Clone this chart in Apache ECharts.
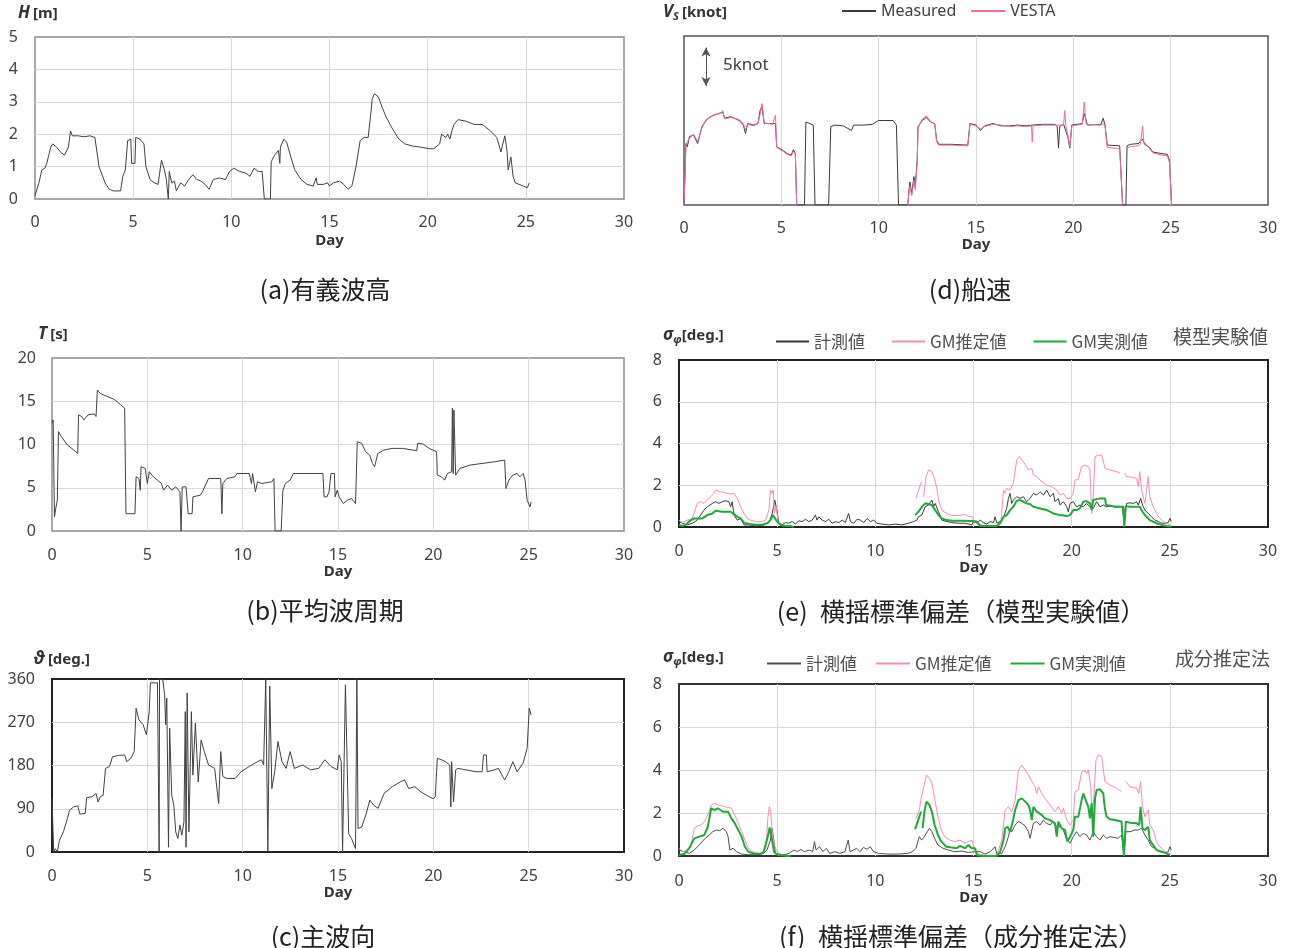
<!DOCTYPE html>
<html>
<head>
<meta charset="utf-8">
<script src="https://cdn.jsdelivr.net/npm/echarts@6/dist/echarts.min.js"></script>
<style>
html,body{margin:0;padding:0;background:#fff;}
#chart{width:1290px;height:948px;}
</style>
</head>
<body>
<div id="chart"></div>
<script>
// ---------- DATA (day, value) ----------
// (a) significant wave height H [m]
const waveHeight = [[0,0.1],[0.1,0.05],[0.2,0.5],[0.35,0.9],[0.5,0.95],[0.6,1.1],[0.8,1.6],[0.9,1.7],[1.1,1.6],[1.3,1.45],[1.5,1.35],[1.7,1.6],[1.81,2.1],[1.9,1.95],[2.2,1.95],[2.5,1.92],[2.8,1.95],[3.05,1.9],[3.26,1.0],[3.57,0.5],[3.78,0.3],[4.0,0.25],[4.36,0.25],[4.47,0.7],[4.6,0.9],[4.72,1.8],[4.88,1.85],[4.92,1.1],[5.09,1.1],[5.13,1.9],[5.34,1.85],[5.55,1.7],[5.65,1.0],[5.86,0.6],[6.07,0.5],[6.27,0.45],[6.44,1.2],[6.59,0.9],[6.69,0.6],[6.79,0],[6.84,0.85],[6.96,0.5],[7.1,0.55],[7.2,0.25],[7.42,0.5],[7.62,0.4],[7.83,0.6],[8.04,0.75],[8.25,0.6],[8.46,0.55],[8.66,0.45],[8.87,0.3],[9.08,0.6],[9.39,0.65],[9.7,0.6],[9.91,0.85],[10.12,0.95],[10.43,0.85],[10.74,0.8],[10.95,0.7],[11.16,0.95],[11.37,0.85],[11.57,0.85],[11.68,0],[11.99,0],[12.03,1.15],[12.2,1.35],[12.4,1.5],[12.47,1.1],[12.5,1.6],[12.67,1.85],[12.82,1.75],[13.03,1.3],[13.23,0.9],[13.55,0.6],[13.86,0.45],[14.17,0.4],[14.32,0.65],[14.38,0.45],[14.69,0.45],[14.9,0.5],[15.0,0.4],[15.21,0.5],[15.52,0.55],[15.73,0.45],[15.94,0.3],[16.14,0.4],[16.35,1.0],[16.56,1.8],[16.77,1.9],[16.97,1.9],[17.08,2.5],[17.18,3.1],[17.29,3.25],[17.49,3.15],[17.7,2.8],[17.91,2.5],[18.22,2.15],[18.53,1.85],[18.84,1.7],[19.26,1.63],[19.67,1.6],[20.09,1.55],[20.3,1.55],[20.61,1.7],[20.71,2.0],[20.92,1.9],[21.02,2.0],[21.13,1.85],[21.23,2.1],[21.34,2.3],[21.55,2.45],[21.96,2.4],[22.38,2.3],[22.79,2.3],[23.2,2.1],[23.52,1.9],[23.73,1.45],[23.83,1.4],[23.93,1.95],[24.04,1.5],[24.1,0.9],[24.24,1.3],[24.35,0.7],[24.46,0.5],[24.66,0.45],[24.87,0.4],[25.08,0.35],[25.18,0.5]];

// (b) mean wave period T [s]
const wavePeriod = [[0,12.46],[0.06,12.84],[0.13,1.62],[0.21,2.79],[0.28,3.56],[0.34,11.49],[0.49,10.9],[0.81,9.94],[1.14,9.36],[1.35,8.97],[1.39,13.42],[1.56,13.23],[1.67,12.84],[1.89,13.42],[2.21,13.54],[2.31,13.23],[2.38,16.3],[2.53,15.9],[2.85,15.6],[3.28,15.2],[3.6,14.6],[3.81,14.2],[3.88,2.0],[4.35,2.0],[4.41,6.27],[4.56,6.07],[4.63,4.72],[4.67,7.43],[4.89,7.23],[5.0,5.49],[5.1,6.85],[5.31,6.27],[5.53,5.88],[5.74,5.49],[5.85,4.72],[6.06,5.3],[6.28,4.72],[6.49,5.1],[6.71,4.53],[6.77,0],[6.83,5.1],[7.03,5.1],[7.14,2.0],[7.35,2.0],[7.39,3.95],[7.78,4.14],[7.89,4.53],[8.21,6.07],[8.85,6.07],[8.91,2.0],[8.96,5.49],[9.17,6.07],[9.6,6.27],[9.71,6.65],[10.35,6.65],[10.46,5.49],[10.52,6.65],[10.67,4.53],[10.78,5.69],[10.99,5.49],[11.21,5.57],[11.53,5.69],[11.64,6.07],[11.7,0],[12.02,0],[12.11,4.72],[12.24,5.49],[12.49,5.88],[12.66,6.65],[14.21,6.65],[14.27,3.95],[14.42,3.95],[14.53,4.53],[14.63,6.65],[14.81,6.65],[14.85,3.95],[14.96,4.72],[15.06,3.95],[15.28,3.17],[15.49,3.56],[15.71,3.75],[15.92,3.17],[16.01,10.33],[16.24,10.14],[16.45,9.17],[16.66,8.78],[16.81,7.81],[16.92,7.43],[17.09,8.97],[17.41,9.36],[17.84,9.55],[18.38,9.55],[18.92,9.36],[19.13,9.28],[19.18,10.14],[19.46,10.06],[19.78,9.55],[20.17,9.17],[20.21,6.46],[20.42,6.27],[20.59,5.88],[20.74,6.65],[20.96,6.85],[21.0,14.2],[21.04,6.65],[21.08,14.0],[21.17,6.46],[21.39,7.23],[21.92,7.62],[22.56,7.81],[23.2,8.0],[23.74,8.2],[23.81,4.91],[23.96,5.88],[24.17,6.46],[24.39,6.65],[24.54,6.27],[24.71,6.65],[24.81,5.88],[24.92,3.56],[25.07,2.79],[25.13,3.37]];

// (c) principal wave direction [deg.]
const waveDirection = [[0,111],[0.09,0],[0.17,7],[0.28,0],[0.39,24],[0.6,42],[0.81,70],[0.92,87],[1.14,94],[1.35,96],[1.46,79],[1.74,80],[1.82,113],[2.1,115],[2.31,122],[2.42,104],[2.53,115],[2.68,118],[2.81,174],[3.02,178],[3.17,198],[3.49,201],[3.81,202],[3.92,188],[4.14,195],[4.31,209],[4.41,299],[4.56,275],[4.78,265],[4.95,244],[5.1,292],[5.16,352],[5.53,352],[5.6,352],[5.62,0],[5.64,360],[5.81,359],[5.91,327],[5.96,265],[6.02,320],[6.11,10],[6.17,258],[6.28,118],[6.39,97],[6.49,42],[6.6,28],[6.71,56],[6.81,35],[6.92,63],[6.99,292],[7.03,10],[7.09,331],[7.18,42],[7.31,292],[7.39,160],[7.52,268],[7.67,146],[7.82,233],[7.99,209],[8.21,181],[8.53,174],[8.74,101],[8.85,209],[8.96,157],[9.17,153],[9.6,153],[9.92,167],[10.35,178],[10.78,188],[10.99,192],[11.1,181],[11.21,359],[11.32,1],[11.42,345],[11.53,132],[11.68,167],[11.85,230],[12.06,188],[12.28,174],[12.49,209],[12.71,174],[13.14,181],[13.56,171],[13.99,174],[14.31,192],[14.63,178],[14.96,171],[15.06,202],[15.17,188],[15.24,0],[15.39,348],[15.49,350],[15.56,38],[15.71,28],[15.92,7],[15.99,360],[16.05,49],[16.24,52],[16.46,77],[16.67,108],[16.88,97],[17.1,91],[17.42,122],[17.85,136],[18.28,146],[18.49,150],[18.71,132],[19.03,136],[19.35,125],[19.78,115],[19.99,111],[20.1,115],[20.21,195],[20.42,192],[20.64,188],[20.86,181],[20.92,94],[20.96,188],[21.06,104],[21.17,171],[21.28,174],[21.71,171],[22.24,167],[22.56,167],[22.63,202],[22.78,202],[22.82,167],[23.21,171],[23.42,174],[23.64,157],[23.74,150],[23.96,167],[24.17,188],[24.39,167],[24.71,185],[24.92,216],[25.03,299],[25.13,285]];

// (d) ship speed [knot]
const speedMeasured = [[0,0],[0.1,8.0],[0.17,7.6],[0.28,8.9],[0.49,9.1],[0.7,8.0],[0.92,10.2],[1.13,11.0],[1.35,11.5],[1.56,11.7],[1.88,12.0],[1.99,12.1],[2.09,11.3],[2.41,11.5],[2.84,11.0],[3.05,10.4],[3.16,9.3],[3.27,10.6],[3.59,10.4],[3.8,10.6],[3.91,12.3],[4.01,12.8],[4.12,10.6],[4.55,10.6],[4.7,10.6],[4.76,7.6],[5.08,7.1],[5.3,6.7],[5.51,6.5],[5.62,7.2],[5.72,6.7],[5.79,0],[6.19,0],[6.26,10.8],[6.47,10.6],[6.64,10.4],[6.73,0],[7.43,0],[7.54,10.2],[7.75,10.4],[8.18,10.3],[8.61,9.7],[8.71,10.4],[9.25,10.4],[9.67,10.5],[9.99,11.0],[10.31,11.0],[10.74,11.0],[10.91,10.4],[11.02,0],[11.49,0],[11.6,3.0],[11.7,1.5],[11.81,3.7],[11.88,2.4],[11.98,5.8],[12.02,10.2],[12.24,11.0],[12.45,11.4],[12.66,10.8],[12.88,10.6],[12.98,8.4],[13.09,7.9],[13.73,7.9],[14.58,7.8],[14.69,10.6],[15.01,10.4],[15.23,9.7],[15.44,10.3],[15.87,10.6],[16.29,10.3],[16.72,10.3],[17.15,10.4],[17.57,10.3],[17.89,10.4],[18.43,10.5],[19.07,10.5],[19.17,10.2],[19.24,7.4],[19.3,10.2],[19.5,10.5],[19.71,8.9],[19.82,7.4],[19.92,10.4],[20.46,10.6],[20.56,11.9],[20.73,10.4],[21.42,10.5],[21.53,11.3],[21.63,10.4],[21.74,7.8],[22.38,7.7],[22.48,7.6],[22.53,0],[22.7,0],[22.76,7.7],[22.92,7.9],[23.35,8.0],[23.45,8.2],[23.56,8.6],[23.66,7.9],[23.87,7.6],[24.08,6.9],[24.51,6.7],[24.83,6.6],[24.94,5.8],[25.05,0]];
const speedVesta = [[0,0],[0.1,7.8],[0.17,7.9],[0.28,8.7],[0.49,9.2],[0.7,8.3],[0.92,10.0],[1.13,11.1],[1.35,11.4],[1.56,11.8],[1.88,11.9],[1.99,12.3],[2.09,11.2],[2.41,11.4],[2.84,11.1],[3.05,10.6],[3.16,9.8],[3.27,10.5],[3.59,10.3],[3.8,10.7],[3.91,11.8],[4.01,13.2],[4.12,10.7],[4.55,10.5],[4.7,11.7],[4.76,7.5],[5.08,7.0],[5.3,6.6],[5.51,6.4],[5.62,7.0],[5.72,6.6],[5.79,0],[5.8,null],[11.49,0],[11.6,2.5],[11.7,1.2],[11.81,3.2],[11.88,2.0],[11.98,5.5],[12.02,10.0],[12.24,11.2],[12.45,11.6],[12.66,10.9],[12.88,10.5],[12.98,8.2],[13.09,7.8],[13.73,7.8],[14.58,7.7],[14.69,10.5],[15.01,10.3],[15.23,9.9],[15.44,10.2],[15.87,10.5],[16.29,10.4],[16.72,10.2],[17.15,10.3],[17.57,10.2],[17.85,10.3],[17.89,8.2],[17.93,10.3],[18.43,10.4],[19.07,10.4],[19.17,10.3],[19.5,10.4],[19.56,12.3],[19.62,10.2],[19.71,9.2],[19.82,7.6],[19.92,10.3],[20.46,10.5],[20.56,13.4],[20.66,10.5],[21.42,10.4],[21.53,10.6],[21.63,10.3],[21.74,7.5],[22.38,7.3],[22.48,7.3],[22.53,0],[22.6,null],[22.76,7.4],[22.92,7.6],[23.35,7.7],[23.45,8.0],[23.56,10.3],[23.62,8.2],[23.87,7.5],[24.08,6.8],[24.51,6.5],[24.83,6.4],[24.94,5.5],[25.05,0]];
const speedArrow = [[1.13,15.5],[1.13,20.5]]; // 5 knot scale marker

// (e) roll standard deviation, model-test based
const rollE_measured = [[0,0.26],[0.17,0.18],[0.42,0.1],[0.68,0.18],[0.93,0.33],[1.1,0.57],[1.27,0.81],[1.44,0.97],[1.7,1.13],[1.86,1.21],[2.03,1.13],[2.2,1.21],[2.37,1.26],[2.54,1.21],[2.63,0.97],[2.71,1.21],[2.8,0.57],[2.97,0.33],[3.14,0.41],[3.31,0.1],[3.56,0.1],[3.9,0.05],[4.32,0.1],[4.58,0.21],[4.75,0.65],[4.88,1.29],[5.0,0.73],[5.08,0.18],[5.25,0.1],[5.42,0.21],[5.59,0.18],[5.76,0.26],[5.93,0.14],[6.1,0.3],[6.27,0.26],[6.44,0.37],[6.61,0.26],[6.78,0.33],[6.95,0.57],[7.03,0.33],[7.12,0.49],[7.29,0.33],[7.46,0.26],[7.63,0.37],[7.8,0.18],[7.97,0.26],[8.14,0.21],[8.31,0.33],[8.47,0.21],[8.64,0.65],[8.73,0.26],[8.9,0.18],[9.07,0.37],[9.24,0.33],[9.41,0.21],[9.58,0.41],[9.75,0.26],[9.92,0.33],[10.08,0.18],[10.34,0.14],[10.68,0.1],[11.02,0.14],[11.36,0.1],[11.69,0.18],[11.95,0.26],[12.12,0.33],[12.2,0.49],[12.37,0.57],[12.54,0.97],[12.71,1.05],[12.88,1.29],[12.97,0.97],[13.05,1.13],[13.22,0.73],[13.39,0.33],[13.64,0.26],[13.9,0.21],[14.24,0.18],[14.58,0.18],[14.92,0.1],[15.0,0.26],[15.17,0.18],[15.34,0.33],[15.5,0.21],[15.68,0.14],[15.85,0.26],[16.02,0.21],[16.1,0.49],[16.19,0.18],[16.36,0.26],[16.53,0.49],[16.6,0.65],[16.69,0.89],[16.78,1.37],[16.86,1.61],[16.95,1.13],[17.03,1.29],[17.2,1.45],[17.37,1.37],[17.54,1.45],[17.71,1.21],[17.88,1.37],[18.05,1.61],[18.22,1.53],[18.39,1.69],[18.56,1.53],[18.73,1.77],[18.9,1.45],[19.07,1.61],[19.15,1.21],[19.32,1.37],[19.41,1.05],[19.58,1.21],[19.75,0.97],[19.83,0.73],[19.92,1.13],[20.08,1.21],[20.25,0.97],[20.42,1.05],[20.59,0.97],[20.76,1.13],[20.93,0.97],[21.1,0.89],[21.27,1.21],[21.44,0.97],[21.61,1.05],[21.78,0.97],[21.95,1.0],[22.12,0.97],[22.29,0.94],[22.46,0.97],[22.59,0.94],[22.66,0.26],[22.73,0.26],[22.8,1.13],[22.97,1.16],[23.14,1.13],[23.31,1.21],[23.39,1.05],[23.51,1.37],[23.61,1.05],[23.73,0.81],[23.9,0.65],[24.07,0.49],[24.24,0.33],[24.41,0.26],[24.58,0.18],[24.75,0.18],[24.92,0.21],[25.0,0.41],[25.08,0.26]];
const rollE_gmEstimated = [[0,0.33],[0.17,0.21],[0.42,0.33],[0.68,0.41],[0.93,1.13],[1.1,1.21],[1.27,1.13],[1.44,1.29],[1.61,1.45],[1.78,1.61],[1.86,1.77],[2.12,1.69],[2.37,1.64],[2.63,1.58],[2.8,1.61],[2.97,1.37],[3.14,0.97],[3.31,0.65],[3.47,0.41],[3.64,0.33],[3.9,0.26],[4.24,0.26],[4.41,0.33],[4.58,0.81],[4.66,1.77],[4.75,1.61],[4.8,1.77],[4.86,0.65],[4.95,0.97],[5.05,0.26],[5.17,0.1],[5.25,0.05],[5.3,null],[12.07,1.37],[12.29,2.01],[12.37,2.17],[12.42,null],[12.46,1.45],[12.58,2.41],[12.71,2.73],[12.88,2.65],[13.02,2.3],[13.14,1.8],[13.22,1.3],[13.39,0.8],[13.64,0.65],[13.9,0.55],[14.24,0.55],[14.58,0.6],[14.75,0.5],[14.92,0.5],[15.0,0.33],[15.2,0.15],[15.6,0.05],[16.2,0.05],[16.4,0.3],[16.53,1.77],[16.6,1.61],[16.7,1.85],[16.86,1.77],[17.03,2.09],[17.2,3.21],[17.34,3.37],[17.54,3.13],[17.8,2.73],[17.97,2.81],[18.05,2.49],[18.22,2.41],[18.47,2.17],[18.73,2.01],[18.98,1.93],[19.24,1.77],[19.41,1.53],[19.58,1.61],[19.75,1.37],[19.92,1.37],[20.08,1.61],[20.17,2.25],[20.34,2.28],[20.5,2.89],[20.68,2.97],[20.85,2.89],[20.93,2.73],[21.02,0.65],[21.1,1.45],[21.19,3.37],[21.36,3.44],[21.53,3.44],[21.7,2.81],[21.95,2.73],[22.29,2.65],[22.46,2.57],[22.6,null],[22.71,2.57],[22.8,2.41],[23.05,2.38],[23.31,2.33],[23.39,1.93],[23.47,2.65],[23.56,1.77],[23.73,1.13],[23.9,2.41],[23.98,1.45],[24.15,0.97],[24.32,0.65],[24.49,0.41],[24.66,0.26],[24.83,0.18],[25.0,0.1]];
const rollE_gmMeasured = [[0,0.1],[0.17,0.05],[0.34,0.1],[0.51,0.26],[0.76,0.41],[1.19,0.41],[1.44,0.57],[1.7,0.65],[1.86,0.78],[2.2,0.73],[2.63,0.73],[2.8,0.62],[2.97,0.49],[3.14,0.41],[3.31,0.21],[3.56,0.14],[3.9,0.11],[4.24,0.11],[4.49,0.18],[4.66,0.33],[4.78,0.57],[4.88,0.49],[5.0,0.26],[5.17,0.1],[5.42,0.05],[5.68,0.05],[5.85,0],[5.9,null],[12.03,0.57],[12.2,0.73],[12.37,0.97],[12.54,1.13],[12.71,1.1],[12.88,1.05],[13.05,0.81],[13.22,0.57],[13.39,0.41],[13.64,0.33],[13.9,0.3],[14.41,0.3],[14.92,0.29],[15.17,0.26],[15.34,0.05],[15.85,0.05],[16.19,0.05],[16.36,0.18],[16.53,0.49],[16.69,0.57],[16.86,0.81],[17.03,0.97],[17.2,1.26],[17.37,1.29],[17.54,1.21],[17.71,1.13],[17.88,1.1],[18.05,0.97],[18.39,0.89],[18.73,0.81],[19.07,0.65],[19.41,0.57],[19.75,0.53],[19.92,0.57],[20.08,0.81],[20.25,0.81],[20.42,0.89],[20.59,1.21],[20.76,1.24],[20.93,1.13],[21.02,0.81],[21.1,1.29],[21.19,1.37],[21.44,1.37],[21.7,1.37],[21.75,1.05],[22.12,1.0],[22.46,0.97],[22.63,0.97],[22.68,0],[22.76,1.0],[22.97,0.97],[23.31,0.97],[23.47,0.97],[23.61,0.73],[23.81,0.49],[23.98,0.33],[24.32,0.18],[24.58,0.1],[24.83,0.05],[25.08,0.02]];

// (f) roll standard deviation, component estimation method
const rollF_measured = [[0,0.28],[0.26,0.2],[0.52,0.12],[0.78,0.28],[1.03,0.51],[1.29,0.78],[1.55,0.98],[1.72,1.13],[1.9,1.21],[2.07,1.18],[2.24,1.29],[2.41,1.13],[2.5,0.9],[2.59,0.28],[2.76,0.36],[2.93,0.2],[3.19,0.09],[3.53,0.06],[3.97,0.06],[4.31,0.12],[4.48,0.28],[4.66,0.74],[4.74,1.29],[4.83,0.74],[4.91,0.12],[5.09,0.09],[5.34,0.05],[5.6,0.12],[5.86,0.28],[6.03,0.2],[6.21,0.31],[6.38,0.2],[6.64,0.28],[6.81,0.2],[6.9,0.67],[6.98,0.28],[7.16,0.43],[7.33,0.2],[7.5,0.36],[7.67,0.12],[7.93,0.2],[8.19,0.12],[8.45,0.2],[8.62,0.74],[8.71,0.2],[8.88,0.28],[9.05,0.36],[9.22,0.2],[9.4,0.4],[9.57,0.31],[9.74,0.43],[9.91,0.2],[10.17,0.12],[10.6,0.09],[11.12,0.09],[11.64,0.12],[11.9,0.2],[12.07,0.36],[12.24,0.9],[12.36,0.74],[12.5,0.9],[12.64,1.13],[12.76,1.29],[12.88,1.13],[13.02,0.82],[13.19,0.51],[13.45,0.36],[13.71,0.28],[14.05,0.2],[14.4,0.23],[14.74,0.16],[15.0,0.2],[15.08,0.12],[15.34,0.2],[15.59,0.09],[15.85,0.2],[16.1,0.43],[16.19,0.09],[16.44,0.12],[16.61,0.43],[16.78,0.9],[16.86,1.24],[16.95,1.13],[17.12,1.44],[17.29,1.6],[17.46,1.52],[17.63,1.4],[17.8,1.13],[17.88,0.82],[18.05,1.52],[18.22,1.6],[18.39,1.44],[18.56,1.67],[18.73,1.52],[18.9,1.44],[19.07,1.6],[19.24,1.36],[19.41,1.36],[19.58,1.21],[19.75,0.74],[19.92,0.59],[20.08,0.9],[20.25,1.13],[20.42,0.9],[20.59,1.05],[20.76,0.98],[20.93,0.74],[21.1,1.13],[21.27,0.9],[21.44,0.74],[21.61,0.98],[21.78,0.82],[21.95,0.9],[22.12,0.87],[22.37,0.82],[22.54,0.98],[22.66,0.05],[22.76,1.13],[22.97,1.13],[23.22,1.21],[23.39,1.21],[23.56,1.29],[23.73,0.98],[23.9,0.74],[24.07,0.43],[24.24,0.36],[24.49,0.2],[24.75,0.16],[24.92,0.2],[25.0,0.43],[25.08,0.28]];
const rollF_gmEstimated = [[0,0.36],[0.17,0.2],[0.43,0.25],[0.6,0.43],[0.78,1.29],[0.95,1.4],[1.12,1.44],[1.29,1.6],[1.47,1.91],[1.64,2.37],[1.81,2.45],[1.98,2.37],[2.16,2.33],[2.33,2.29],[2.5,2.26],[2.67,2.22],[2.84,1.91],[3.02,1.52],[3.19,1.13],[3.36,0.74],[3.53,0.36],[3.71,0.2],[4.05,0.12],[4.31,0.16],[4.43,0.43],[4.53,1.83],[4.6,2.29],[4.67,2.06],[4.74,1.21],[4.83,0.59],[4.95,0.28],[5.09,0.12],[5.26,0.05],[5.3,null],[12.07,1.75],[12.24,2.14],[12.33,2.68],[12.47,3.22],[12.6,3.77],[12.76,3.61],[12.88,3.38],[13.02,2.68],[13.19,1.83],[13.36,1.21],[13.53,0.9],[13.79,0.74],[14.05,0.67],[14.31,0.74],[14.4,0.82],[14.57,0.59],[14.74,0.67],[14.91,0.74],[15.0,0.51],[15.08,0.28],[15.3,0.05],[16.0,0.03],[16.19,0.05],[16.44,0.74],[16.61,2.14],[16.78,2.29],[16.95,2.06],[17.12,2.6],[17.29,4.0],[17.46,4.23],[17.63,4.0],[17.8,3.77],[17.97,3.46],[18.14,3.22],[18.22,2.91],[18.31,3.22],[18.47,2.91],[18.64,2.68],[18.9,2.37],[19.15,2.06],[19.32,2.29],[19.49,1.98],[19.58,2.22],[19.75,1.67],[19.92,1.44],[20.08,1.67],[20.17,2.99],[20.34,3.07],[20.51,3.92],[20.68,3.97],[20.76,3.84],[20.85,4.0],[20.97,3.22],[21.05,1.83],[21.14,2.91],[21.24,4.47],[21.36,4.7],[21.53,4.62],[21.69,3.46],[21.95,3.3],[22.29,3.15],[22.54,2.99],[22.6,null],[22.76,3.46],[22.97,3.22],[23.31,3.15],[23.42,2.91],[23.51,3.46],[23.61,2.29],[23.73,1.83],[23.9,2.14],[23.98,1.44],[24.15,1.21],[24.32,0.67],[24.49,0.43],[24.66,0.28],[24.83,0.16],[25.0,0.12]];
const rollF_gmMeasured = [[0,0.05],[0.26,0.09],[0.52,0.36],[0.78,0.82],[1.03,0.9],[1.29,0.98],[1.47,1.36],[1.64,2.22],[1.81,2.14],[1.98,2.22],[2.24,2.06],[2.5,2.06],[2.67,1.75],[2.84,1.52],[3.02,1.21],[3.19,0.9],[3.36,0.43],[3.53,0.2],[3.79,0.12],[4.14,0.09],[4.31,0.2],[4.48,0.74],[4.62,1.33],[4.74,0.74],[4.84,0.2],[5.0,0.05],[5.26,0.03],[5.52,0],[5.69,0],[5.75,null],[12.02,1.24],[12.16,1.6],[12.24,1.83],[12.33,2.06],[12.37,null],[12.41,1.3],[12.5,2.06],[12.6,2.53],[12.76,2.37],[12.88,2.06],[13.02,1.44],[13.19,0.98],[13.36,0.67],[13.62,0.43],[13.88,0.4],[14.14,0.36],[14.31,0.47],[14.4,0.43],[14.57,0.36],[14.74,0.51],[14.91,0.36],[15.0,0.43],[15.08,0.36],[15.17,0.05],[15.5,0],[16.19,0],[16.36,0.2],[16.53,0.74],[16.61,1.29],[16.73,1.36],[16.86,1.13],[17.0,1.6],[17.12,2.14],[17.29,2.6],[17.46,2.68],[17.63,2.53],[17.8,2.37],[17.88,2.14],[17.97,1.67],[18.05,2.29],[18.22,2.06],[18.47,1.91],[18.64,1.75],[18.9,1.67],[19.15,1.52],[19.24,0.9],[19.32,1.6],[19.49,1.29],[19.66,1.21],[19.78,0.67],[19.92,0.9],[20.08,1.21],[20.17,1.83],[20.34,1.83],[20.51,2.6],[20.59,2.91],[20.68,2.68],[20.85,2.29],[20.93,1.75],[21.02,2.45],[21.1,0.9],[21.19,2.68],[21.27,3.07],[21.44,3.1],[21.61,2.91],[21.69,2.22],[21.78,1.83],[21.95,1.71],[22.2,1.67],[22.54,1.6],[22.66,0],[22.76,1.6],[22.97,1.55],[23.31,1.52],[23.44,1.44],[23.51,2.29],[23.61,1.29],[23.73,1.21],[23.9,1.36],[23.98,0.74],[24.15,0.51],[24.32,0.28],[24.58,0.2],[24.83,0.12],[25.0,0.05]];

// axis settings
const dayRange = [0, 30, 5];
const hAxis = [0, 5, 1];
const tAxis = [0, 20, 5];
const dirAxis = [0, 360, 90];
const speedAxis = [0, 22];
const rollAxis = [0, 8, 2];

// ---------- LAYOUT ----------
const FONT = "'Noto Sans', 'Noto Sans CJK JP', sans-serif";
const CJK = "'Noto Sans CJK JP', sans-serif";
const GRID_LINE = '#d9d9d9';
const BLACK = '#3a3a3a', PINK = '#f48cb6', GREEN = '#21a83c';

const panels = [
  {left:35,  top:37,  width:589, height:162, y:hAxis,  frame:'#8c8c8c', fw:1.5, lblM:[15,17], nameGap:34},
  {left:52,  top:358, width:572, height:173, y:tAxis,  frame:'#8c8c8c', fw:1.5, lblM:[16,16], nameGap:27},
  {left:52,  top:679, width:572, height:173, y:dirAxis,frame:'#222',    fw:2,   lblM:[16,17], nameGap:27},
  {left:684, top:36,  width:584, height:169, y:null,   frame:'#555',    fw:1.5, lblM:[15,0],  nameGap:30},
  {left:679, top:360, width:589, height:167, y:rollAxis,frame:'#222',   fw:2,   lblM:[16,17], nameGap:30},
  {left:679, top:684, width:589, height:172, y:rollAxis,frame:'#333',   fw:2,   lblM:[17,17], nameGap:29}
];

const grid = panels.map(p => ({left:p.left, top:p.top, width:p.width, height:p.height, show:true,
  borderColor:p.frame, borderWidth:p.fw, backgroundColor:'transparent', containLabel:false}));

const xAxis = panels.map((p,i) => ({
  type:'value', gridIndex:i, min:dayRange[0], max:dayRange[1], interval:dayRange[2],
  axisLine:{show:false}, axisTick:{show:false},
  splitLine:{show:true, showMinLine:false, showMaxLine:false, lineStyle:{color:GRID_LINE, width:1}},
  axisLabel:{margin:p.lblM[0], fontSize:16, color:'#404040', fontFamily:FONT},
  name:'Day', nameLocation:'middle', nameGap:p.nameGap,
  nameTextStyle:{fontSize:15, fontWeight:'bold', color:'#333', fontFamily:FONT}
}));

const yAxis = panels.map((p,i) => {
  if (!p.y) {
    return {type:'value', gridIndex:i, min:speedAxis[0], max:speedAxis[1],
      axisLine:{show:false}, axisTick:{show:false}, axisLabel:{show:false}, splitLine:{show:false}};
  }
  return {type:'value', gridIndex:i, min:p.y[0], max:p.y[1], interval:p.y[2],
    axisLine:{show:false}, axisTick:{show:false},
    splitLine:{show:true, showMinLine:false, showMaxLine:false, lineStyle:{color:GRID_LINE, width:1}},
    axisLabel:{margin:p.lblM[1], fontSize:16, color:'#404040', fontFamily:FONT}};
});

function line(name, idx, data, color, width, z) {
  return {type:'line', name, xAxisIndex:idx, yAxisIndex:idx, data, symbol:'none', showSymbol:false,
    connectNulls:false, animation:false, z:z||2,
    lineStyle:{color, width}, itemStyle:{color}, emphasis:{disabled:true}};
}

const series = [
  line('H', 0, waveHeight, '#404040', 1),
  line('T', 1, wavePeriod, '#404040', 1),
  line('dir', 2, waveDirection, '#404040', 1),
  line('Measured', 3, speedMeasured, '#3a3a3a', 1, 2),
  line('VESTA', 3, speedVesta, '#f06aa5', 1, 3),
  Object.assign(line('arrow', 3, [], '#555', 1, 4), {
    markLine:{silent:true, animation:false, symbol:['arrow','arrow'], symbolSize:[7,9],
      label:{show:false}, lineStyle:{color:'#555', width:1, type:'solid'},
      data:[[{coord:speedArrow[0]},{coord:speedArrow[1]}]]}
  }),
  line('e:計測値', 4, rollE_measured, BLACK, 1, 2),
  line('e:GM推定値', 4, rollE_gmEstimated, PINK, 1, 3),
  line('e:GM実測値', 4, rollE_gmMeasured, GREEN, 2, 4),
  line('f:計測値', 5, rollF_measured, '#4d4d4d', 1, 2),
  line('f:GM推定値', 5, rollF_gmEstimated, PINK, 1, 3),
  line('f:GM実測値', 5, rollF_gmMeasured, GREEN, 2, 4)
];

const legendText = {fontSize:17, color:'#505050', fontFamily:CJK};
const legend = [
  {left:837, top:-2, itemWidth:34, itemHeight:2, itemGap:15, icon:'rect',
   data:['Measured','VESTA'],
   textStyle:{fontSize:16, color:'#404040', fontFamily:FONT}, selectedMode:false},
  {left:771, top:328, itemWidth:33, itemHeight:2, itemGap:27, icon:'rect',
   data:['e:計測値','e:GM推定値','e:GM実測値'], formatter:n=>n.slice(2), textStyle:legendText, selectedMode:false},
  {left:762, top:650, itemWidth:34, itemHeight:2, itemGap:19, icon:'rect',
   data:['f:計測値','f:GM推定値','f:GM実測値'], formatter:n=>n.slice(2), textStyle:legendText, selectedMode:false}
];

function axisTitle(x, y, parts) {
  return {type:'text', left:x, top:y, style:{text:parts, fontFamily:FONT, fill:'#333',
    rich:{
      i:{fontStyle:'italic', fontWeight:'bold', fontSize:17, fontFamily:FONT, fill:'#333'},
      b:{fontWeight:'bold', fontSize:15, fontFamily:FONT, fill:'#333'},
      s:{fontStyle:'italic', fontWeight:'bold', fontSize:11, fontFamily:FONT, fill:'#333', padding:[8,0,0,0]}
    }}};
}
function caption(cx, cy, txt) {
  return {type:'text', x:cx, y:cy, style:{text:txt, fontSize:25, fontFamily:CJK, fill:'#222',
    align:'center', verticalAlign:'middle'}};
}

const graphic = [
  axisTitle(18, 5, '{i|H} {b|[m]}'),
  axisTitle(38, 326, '{i|T} {b|[s]}'),
  axisTitle(33, 651, '{i|ϑ} {b|[deg.]}'),
  axisTitle(663, 4, '{i|V}{s|S} {b|[knot]}'),
  axisTitle(663, 327, '{i|σ}{s|φ}{b|[deg.]}'),
  axisTitle(663, 649, '{i|σ}{s|φ}{b|[deg.]}'),
  {type:'text', left:723, top:57, style:{text:'5knot', fontSize:17, fontFamily:FONT, fill:'#404040'}},
  {type:'text', left:1173, top:327, style:{text:'模型実験値', fontSize:19, fontFamily:CJK, fill:'#505050'}},
  {type:'text', left:1175, top:649, style:{text:'成分推定法', fontSize:19, fontFamily:CJK, fill:'#505050'}},
  caption(325, 289, '(a)有義波高'),
  caption(970, 289, '(d)船速'),
  caption(325, 610, '(b)平均波周期'),
  caption(961, 611, '(e)\u2002横揺標準偏差（模型実験値）'),
  caption(323, 936, '(c)主波向'),
  caption(961, 936, '(f)\u2002横揺標準偏差（成分推定法）')
];

const chart = echarts.init(document.getElementById('chart'), null, {renderer:'canvas'});
chart.setOption({
  backgroundColor:'#ffffff',
  animation:false,
  grid, xAxis, yAxis, series, legend, graphic,
  tooltip:{show:false}
});
</script>
</body>
</html>
